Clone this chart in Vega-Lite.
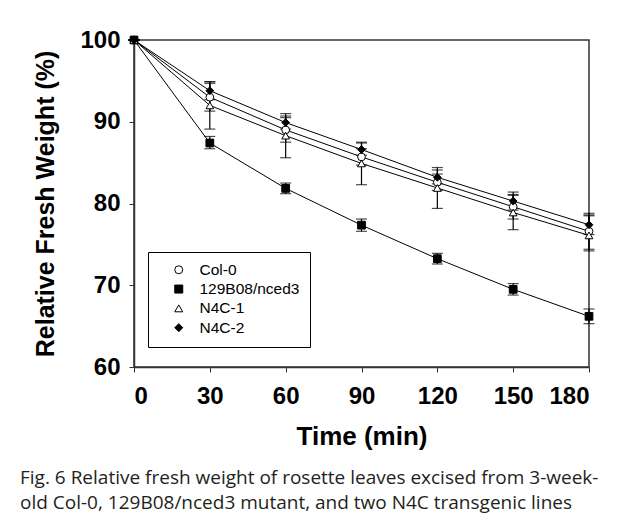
{
  "$schema": "https://vega.github.io/schema/vega-lite/v6.json",
  "width": 455,
  "height": 327,
  "autosize": {"type": "none"},
  "padding": {"left": 134, "top": 40, "right": 36, "bottom": 154},
  "background": "white",
  "title": {
    "text": ["Fig. 6  Relative fresh weight of rosette leaves excised from 3-week-", "old Col-0, 129B08/nced3 mutant, and two N4C transgenic lines"],
    "orient": "bottom",
    "anchor": "start",
    "frame": "group",
    "dx": -114,
    "offset": 20,
    "font": "Open Sans",
    "fontSize": 19,
    "fontWeight": "normal",
    "color": "#231f20",
    "lineHeight": 25
  },
  "config": {
    "view": {"stroke": "#333", "strokeWidth": 1.5},
    "axis": {
      "grid": false,
      "domainColor": "#333",
      "domainWidth": 1.5,
      "tickColor": "#333",
      "tickSize": 5,
      "labelFont": "Liberation Sans",
      "labelFontWeight": "bold",
      "labelFontSize": 24,
      "labelColor": "black",
      "titleFont": "Liberation Sans",
      "titleFontWeight": "bold",
      "titleFontSize": 25,
      "titleColor": "black"
    }
  },
  "data": {
    "values": [
      {"t": 0, "g": "Col-0", "v": 100, "lo": 100, "hi": 100},
      {"t": 30, "g": "Col-0", "v": 93.0, "lo": 91.3, "hi": 94.7},
      {"t": 60, "g": "Col-0", "v": 89.0, "lo": 87.5, "hi": 90.5},
      {"t": 90, "g": "Col-0", "v": 85.7, "lo": 84.7, "hi": 86.7},
      {"t": 120, "g": "Col-0", "v": 82.6, "lo": 81.6, "hi": 83.6},
      {"t": 150, "g": "Col-0", "v": 79.6, "lo": 78.1, "hi": 81.1},
      {"t": 180, "g": "Col-0", "v": 76.6, "lo": 74.4, "hi": 78.8},
      {"t": 0, "g": "129B08/nced3", "v": 100, "lo": 100, "hi": 100},
      {"t": 30, "g": "129B08/nced3", "v": 87.4, "lo": 86.7, "hi": 88.2},
      {"t": 60, "g": "129B08/nced3", "v": 81.85, "lo": 81.2, "hi": 82.5},
      {"t": 90, "g": "129B08/nced3", "v": 77.35, "lo": 76.6, "hi": 78.1},
      {"t": 120, "g": "129B08/nced3", "v": 73.25, "lo": 72.6, "hi": 73.9},
      {"t": 150, "g": "129B08/nced3", "v": 69.5, "lo": 68.8, "hi": 70.2},
      {"t": 180, "g": "129B08/nced3", "v": 66.2, "lo": 65.3, "hi": 67.1},
      {"t": 0, "g": "N4C-1", "v": 100, "lo": 100, "hi": 100},
      {"t": 30, "g": "N4C-1", "v": 92.0, "lo": 89.1, "hi": 94.9},
      {"t": 60, "g": "N4C-1", "v": 88.3, "lo": 85.6, "hi": 91.0},
      {"t": 90, "g": "N4C-1", "v": 84.9, "lo": 82.3, "hi": 87.5},
      {"t": 120, "g": "N4C-1", "v": 81.9, "lo": 79.4, "hi": 84.4},
      {"t": 150, "g": "N4C-1", "v": 78.9, "lo": 76.8, "hi": 81.0},
      {"t": 180, "g": "N4C-1", "v": 76.1, "lo": 74.2, "hi": 78.5},
      {"t": 0, "g": "N4C-2", "v": 100, "lo": 100, "hi": 100},
      {"t": 30, "g": "N4C-2", "v": 93.8, "lo": 92.7, "hi": 94.9},
      {"t": 60, "g": "N4C-2", "v": 89.9, "lo": 89.1, "hi": 90.7},
      {"t": 90, "g": "N4C-2", "v": 86.6, "lo": 85.9, "hi": 87.4},
      {"t": 120, "g": "N4C-2", "v": 83.2, "lo": 82.4, "hi": 84.1},
      {"t": 150, "g": "N4C-2", "v": 80.3, "lo": 79.2, "hi": 81.4},
      {"t": 180, "g": "N4C-2", "v": 77.4, "lo": 76.2, "hi": 78.6}
    ]
  },
  "encoding": {
    "x": {
      "field": "t",
      "type": "quantitative",
      "scale": {"domain": [0, 180], "nice": false},
      "axis": {"values": [0, 30, 60, 90, 120, 150, 180], "title": "Time (min)", "labelPadding": 12, "titlePadding": 15, "titleFontSize": 26}
    }
  },
  "layer": [
    {
      "mark": {"type": "errorbar", "ticks": {"size": 11, "thickness": 1.2, "color": "black"}, "rule": {"strokeWidth": 1.2, "color": "black"}, "color": "black"},
      "encoding": {
        "y": {"field": "lo", "type": "quantitative", "scale": {"domain": [60, 100], "nice": false}, "title": "Relative Fresh Weight (%)"},
        "y2": {"field": "hi"}
      }
    },
    {
      "mark": {"type": "line", "color": "black", "strokeWidth": 1},
      "encoding": {
        "y": {"field": "v", "type": "quantitative"},
        "detail": {"field": "g"}
      }
    },
    {
      "mark": {"type": "point", "strokeWidth": 1, "size": 60, "opacity": 1},
      "encoding": {
        "y": {
          "field": "v",
          "type": "quantitative",
          "scale": {"domain": [60, 100], "nice": false},
          "axis": {"values": [60, 70, 80, 90, 100], "title": "Relative Fresh Weight (%)", "labelPadding": 9, "titlePadding": 21}
        },
        "stroke": {"value": "black"},
        "shape": {
          "field": "g",
          "type": "nominal",
          "scale": {"domain": ["Col-0", "129B08/nced3", "N4C-1", "N4C-2"], "range": ["circle", "square", "triangle-up", "diamond"]},
          "legend": {
            "title": null,
            "orient": "none",
            "legendX": 14,
            "legendY": 212,
            "padding": 10,
            "strokeColor": "black",
            "fillColor": "white",
            "symbolSize": 64,
            "symbolOffset": 13,
            "symbolStrokeWidth": 1,
            "labelOffset": 13,
            "labelFont": "Liberation Sans",
            "labelFontSize": 15.5,
            "labelColor": "black",
            "rowPadding": 2.3
          }
        },
        "fill": {
          "field": "g",
          "type": "nominal",
          "legend": null,
          "scale": {"domain": ["Col-0", "129B08/nced3", "N4C-1", "N4C-2"], "range": ["white", "black", "white", "black"]}
        }
      }
    }
  ]
}
